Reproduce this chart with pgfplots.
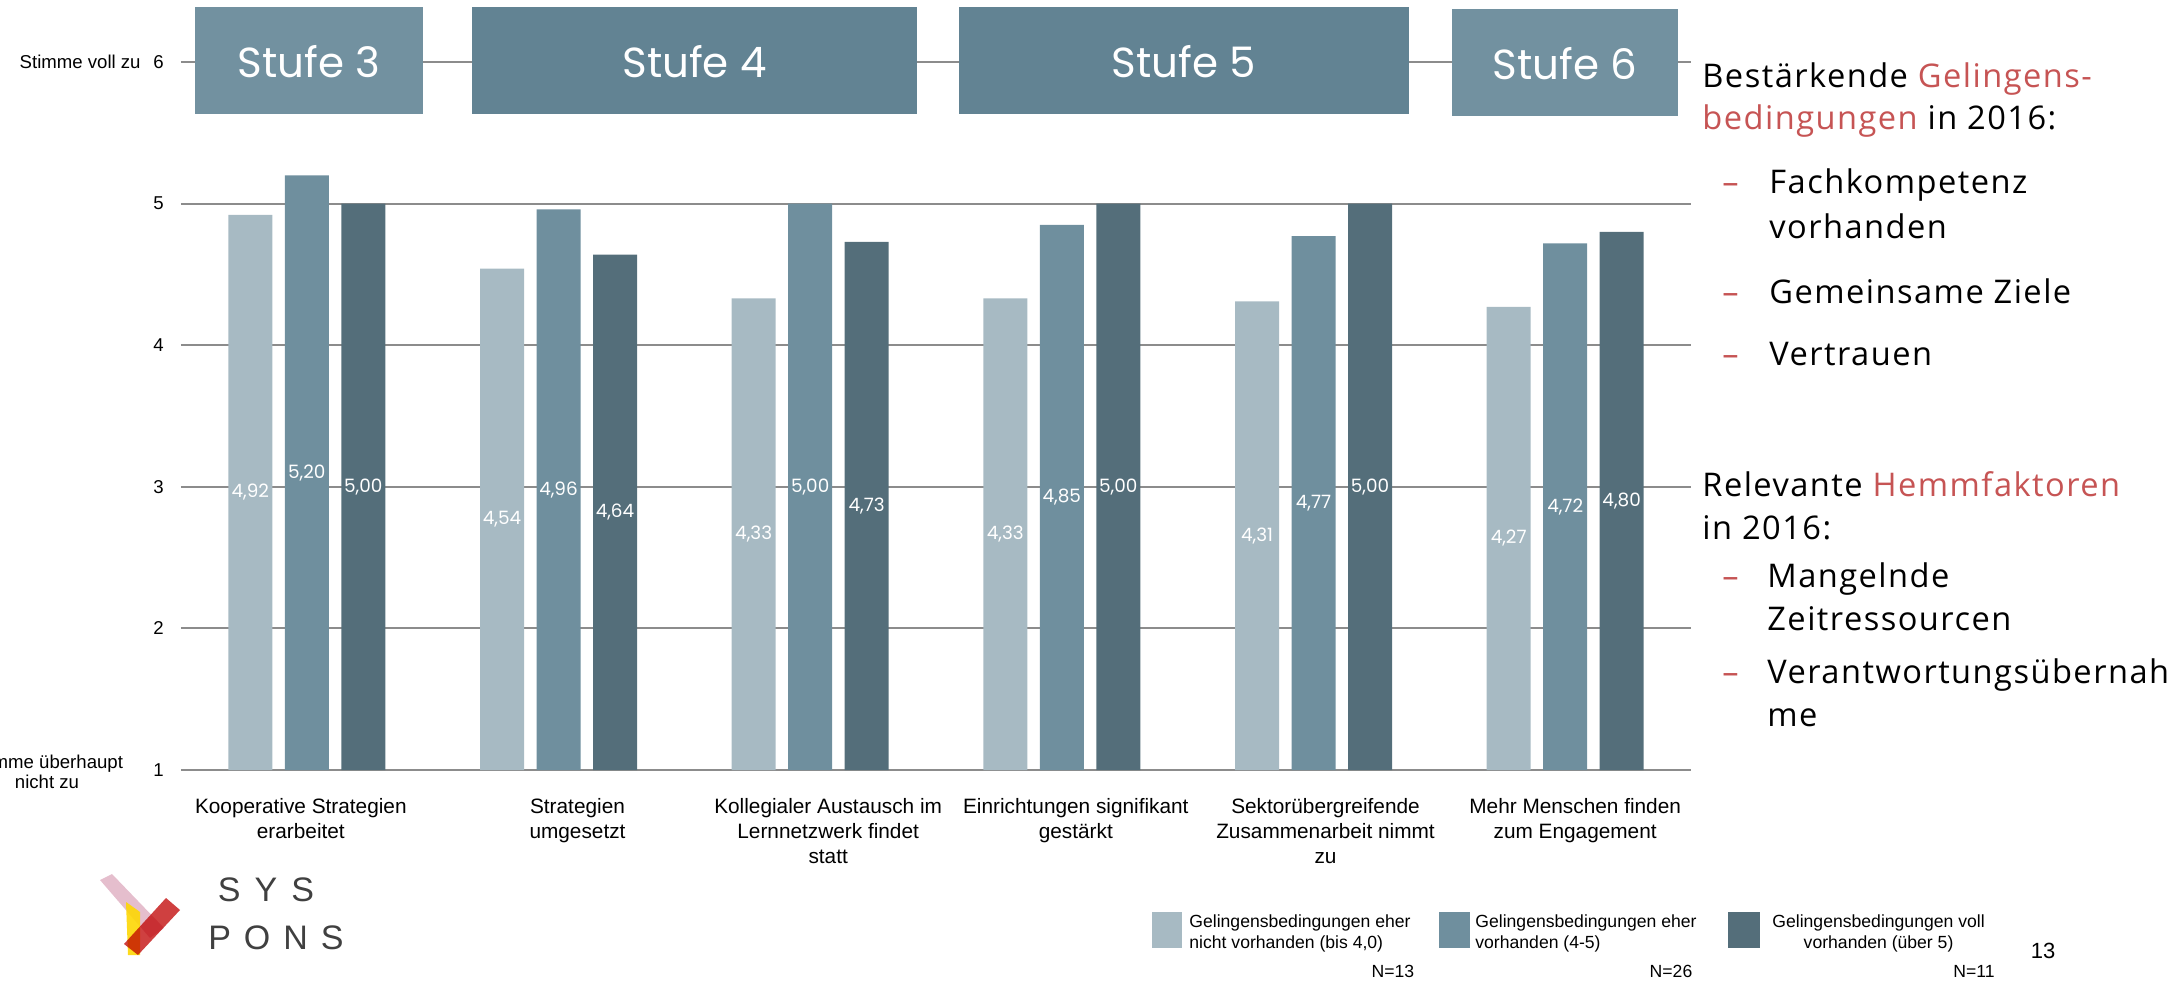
\documentclass[border=0pt]{standalone}
\usepackage{fontspec}
\setmainfont{Liberation Sans}
\newfontfamily\geo{Poppins}
\newfontfamily\rt{Open Sans}[LetterSpace=4.5]
\usepackage{pgfplots}
\pgfplotsset{compat=1.18}
\definecolor{cA}{HTML}{A7BAC3}
\definecolor{cB}{HTML}{6F8F9E}
\definecolor{cC}{HTML}{546E7A}
\definecolor{sL}{HTML}{7291A0}
\definecolor{sD}{HTML}{628393}
\definecolor{gridc}{HTML}{8C8C8C}
\definecolor{redt}{HTML}{C65454}
\newcommand{\tl}{\fontsize{10.4}{12.5}\selectfont}
\begin{document}
\begin{tikzpicture}
\useasboundingbox (0,0) rectangle (1088pt,490.5pt);
\begin{axis}[at={(90.5pt,105.5pt)}, anchor=south west, scale only axis,
  width=755pt, height=354pt,
  xmin=-0.5, xmax=5.5, ymin=1, ymax=6, enlargelimits=false,
  ybar=6.25pt, bar width=22pt,
  axis line style={draw=none}, major tick length=0pt,
  ymajorgrids, grid style={gridc, line width=1pt},
  ytick={1,2,3,4,5,6}, yticklabels={1,2,3,4,5,6},
  yticklabel style={font=\fontsize{9.3}{11}\selectfont, anchor=east, inner sep=0pt, xshift=-8.5pt},
  xtick={0,1,2,3,4,5},
  xticklabels={
    {\begin{tabular}{@{}c@{\hspace*{6pt}}}Kooperative Strategien\\erarbeitet\end{tabular}},
    {\begin{tabular}{@{\hspace*{19pt}}c@{}}Strategien\\umgesetzt\end{tabular}},
    {\begin{tabular}{@{\hspace*{18pt}}c@{}}Kollegialer Austausch im\\Lernnetzwerk findet\\statt\end{tabular}},
    {\begin{tabular}{@{\hspace*{14pt}}c@{}}Einrichtungen signifikant\\gestärkt\end{tabular}},
    {\begin{tabular}{@{\hspace*{12pt}}c@{}}Sektorübergreifende\\Zusammenarbeit nimmt\\zu\end{tabular}},
    {\begin{tabular}{@{\hspace*{10pt}}c@{}}Mehr Menschen finden\\zum Engagement\end{tabular}}},
  xticklabel style={font=\tl, anchor=north, inner sep=0pt, yshift=-13pt},
  visualization depends on=rawy \as \rawy,
  nodes near coords={\pgfmathprintnumber[fixed,fixed zerofill,precision=2,use comma,assume math mode=true]{\pgfplotspointmeta}},
  nodes near coords style={anchor=center, inner sep=0pt, text=white,
    font=\geo\fontsize{9.2}{11}\selectfont, yshift={(1-\rawy)*35.4pt}},
]
\addplot[fill=cA, draw=none] coordinates {(0,4.92) (1,4.54) (2,4.33) (3,4.33) (4,4.31) (5,4.27)};
\addplot[fill=cB, draw=none] coordinates {(0,5.20) (1,4.96) (2,5.00) (3,4.85) (4,4.77) (5,4.72)};
\addplot[fill=cC, draw=none] coordinates {(0,5.00) (1,4.64) (2,4.73) (3,5.00) (4,5.00) (5,4.80)};
\end{axis}
\begin{scope}[x=0.5pt, y=-0.5pt, shift={(0pt,490.5pt)}]
  % Stufe boxes
  \fill[sL] (195,7) rectangle (423,114);
  \fill[sD] (472,7) rectangle (917,114);
  \fill[sD] (959,7) rectangle (1409,114);
  \fill[sL] (1452,9) rectangle (1678,116);
  \begin{scope}[every node/.style={text=white, inner sep=0pt, font=\geo\fontsize{21}{24}\selectfont}]
    \node at (309,62) {Stufe 3};
    \node at (694.5,62) {Stufe 4};
    \node at (1184,62) {Stufe 5};
    \node at (1565,64) {Stufe 6};
  \end{scope}
  % axis end texts
  \node[anchor=east, inner sep=0pt, font=\fontsize{9.3}{11}\selectfont] at (141,62) {Stimme voll zu};
  \node[align=center, inner sep=0pt, font=\fontsize{9.3}{10}\selectfont] at (47,772) {Stimme überhaupt\\nicht zu};
  % right text
  \begin{scope}[every node/.style={anchor=base west, inner sep=0pt, font=\rt\fontsize{16.3}{19}\selectfont}]
    \node at (1702,88) {Bestärkende \textcolor{redt}{Gelingens-}};
    \node at (1702,130) {\textcolor{redt}{bedingungen} in 2016:};
    \node[text=redt] at (1722,194) {–};
    \node at (1769,194) {Fachkompetenz};
    \node at (1769,239) {vorhanden};
    \node[text=redt] at (1722,304) {–};
    \node at (1769,304) {Gemeinsame Ziele};
    \node[text=redt] at (1722,366) {–};
    \node at (1769,366) {Vertrauen};
    \node at (1702,497) {Relevante \textcolor{redt}{Hemmfaktoren}};
    \node at (1702,540) {in 2016:};
    \node[text=redt] at (1722,588) {–};
    \node at (1767,588) {Mangelnde};
    \node at (1767,631) {Zeitressourcen};
    \node[text=redt] at (1722,684) {–};
    \node at (1767,684) {Verantwortungsübernah};
    \node at (1767,727) {me};
  \end{scope}
  % legend
  \fill[cA] (1152,912) rectangle (1182,948);
  \fill[cB] (1439,912) rectangle (1470,948);
  \fill[cC] (1728,912) rectangle (1760,948);
  \begin{scope}[every node/.style={inner sep=0pt, font=\fontsize{8.8}{10.5}\selectfont}]
    \node[anchor=north west, align=left] at (1189,914) {Gelingensbedingungen eher\\nicht vorhanden (bis 4,0)};
    \node[anchor=north west, align=left] at (1475,914) {Gelingensbedingungen eher\\vorhanden (4-5)};
    \node[anchor=north west, align=center] at (1772,914) {Gelingensbedingungen voll\\vorhanden (über 5)};
    \node at (1393,971) {N=13};
    \node at (1671,971) {N=26};
    \node at (1974,971) {N=11};
  \end{scope}
  \node[inner sep=0pt, font=\fontsize{11}{13}\selectfont] at (2043,951) {13};
  % logo
  \fill[cA!40!purple!45, opacity=0.8] (100,880) -- (112,874) -- (164,928) -- (150,938) -- cycle;
  \fill[yellow!75!orange, opacity=0.9] (126,902) -- (140,912) -- (140,955) -- (128,955) -- cycle;
  \fill[red!75!black, opacity=0.75] (124,944) -- (166,898) -- (180,910) -- (138,955) -- cycle;
  \node[inner sep=0pt, text=black!75, font=\fontsize{17}{20}\selectfont] at (266,890) {S\hspace{7pt}Y\hspace{7pt}S};
  \node[inner sep=0pt, text=black!75, font=\fontsize{17}{20}\selectfont] at (276,938) {P\hspace{6.5pt}O\hspace{6.5pt}N\hspace{6.5pt}S};
\end{scope}
\end{tikzpicture}
\end{document}
